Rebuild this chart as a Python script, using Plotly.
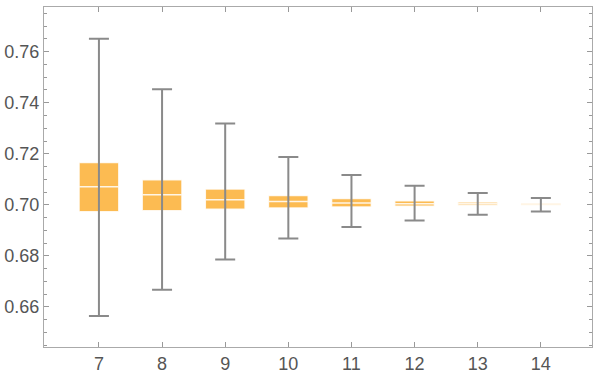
import plotly.graph_objects as go

# valeurs
n = [7, 8, 9, 10, 11, 12, 13, 14]
bas = [0.6564, 0.6667, 0.6786, 0.6868, 0.6913, 0.6939, 0.6961, 0.6974]
q1 = [0.6973, 0.6977, 0.6983, 0.6988, 0.6991, 0.6994, 0.6997, 0.6998]
mediane = [0.7071, 0.7039, 0.7020, 0.7013, 0.7007, 0.7004, 0.7004, 0.7002]
q3 = [0.7166, 0.7098, 0.7062, 0.7037, 0.7025, 0.7016, 0.7011, 0.7006]
haut = [0.7651, 0.7453, 0.7319, 0.7187, 0.7117, 0.7075, 0.7046, 0.7027]

gris = "#8a8a8a"
orange = "#fcbb52"

fig = go.Figure()

# moustaches (barres d'erreur depuis la mediane)
fig.add_trace(go.Scatter(
    x=n, y=mediane, mode="markers",
    marker=dict(size=1, color="rgba(0,0,0,0)"),
    error_y=dict(
        type="data", symmetric=False,
        array=[h - m for h, m in zip(haut, mediane)],
        arrayminus=[m - b for m, b in zip(mediane, bas)],
        color=gris, thickness=2, width=10,
    ),
    hoverinfo="skip", showlegend=False,
))

# boites
fig.add_trace(go.Box(
    x=n, q1=q1, median=mediane, q3=q3,
    lowerfence=q1, upperfence=q3,
    fillcolor=orange,
    line=dict(color="rgba(255,255,255,0.85)", width=1.5),
    whiskerwidth=0, width=0.63,
    showlegend=False,
))

axe = dict(
    showline=True, linecolor="#aaaaaa", linewidth=1, mirror="ticks",
    ticks="inside", tickcolor="#999999", ticklen=5,
    showgrid=False, zeroline=False, automargin=False,
    tickfont=dict(family="Liberation Sans, Arial", size=18, color="#555555"),
)

fig.update_xaxes(axe, range=[6.13, 14.81], tickmode="array", tickvals=n)
fig.update_yaxes(axe, range=[0.6443, 0.7775], tickmode="linear", tick0=0.66, dtick=0.02,
                 tickformat=".2f",
                 minor=dict(ticks="inside", ticklen=3, tickcolor="#999999", dtick=0.005, tick0=0.66))

fig.update_layout(
    width=596, height=382,
    margin=dict(l=44, r=4, t=7, b=35),
    paper_bgcolor="white", plot_bgcolor="white",
)

# enlever la marge par defaut de la page, pas de barre d'outils
fig.write_html("out.html", config={"displayModeBar": False},
               post_script="document.body.style.margin='0';")
